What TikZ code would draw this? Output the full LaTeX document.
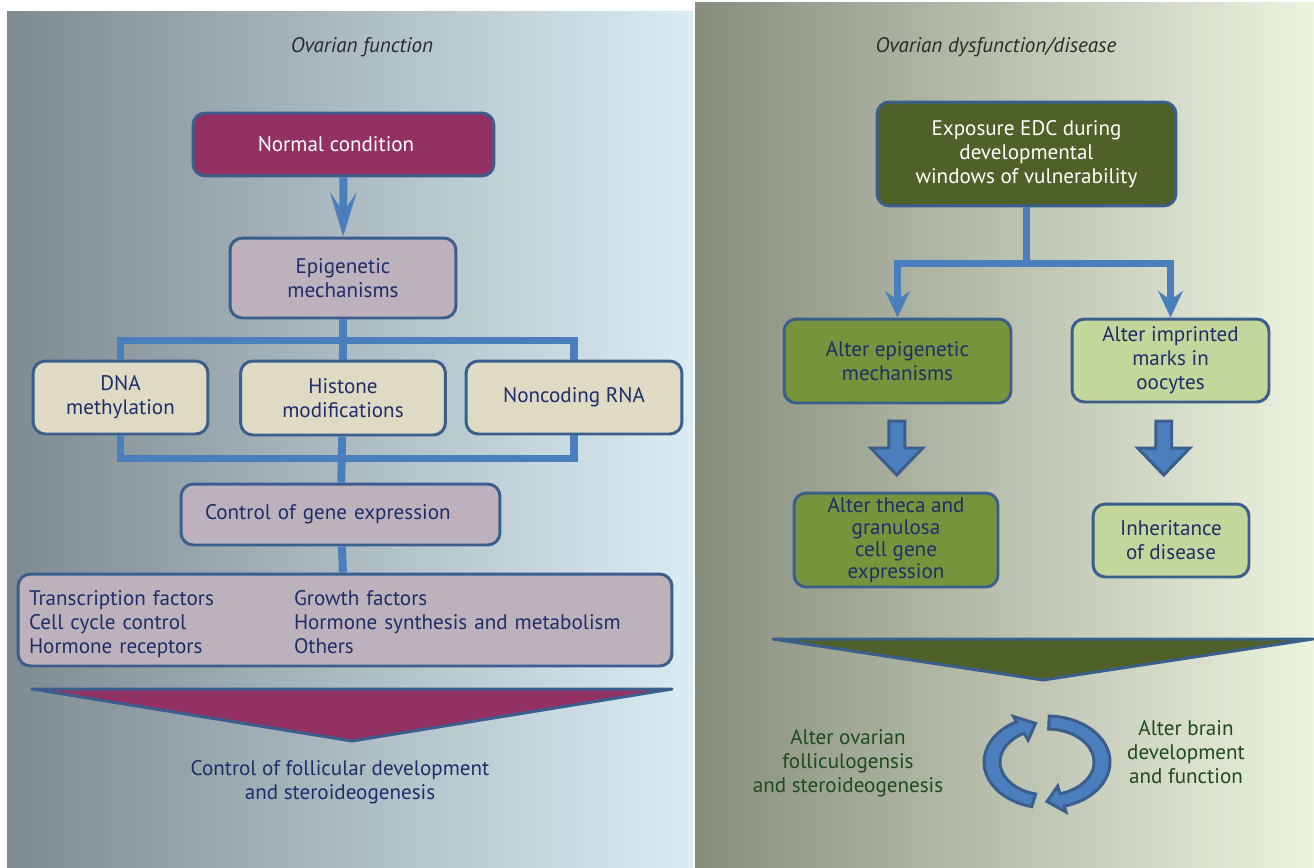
\documentclass[tikz,border=0pt]{standalone}
\usepackage{fontspec}
\setmainfont{PT Sans}
\usetikzlibrary{arrows.meta,positioning,calc}
\definecolor{PanelBlueL}{HTML}{7E8B90}
\definecolor{PanelBlueR}{HTML}{DAECF4}
\definecolor{PanelOliveL}{HTML}{888E7E}
\definecolor{PanelOliveR}{HTML}{ECF3DF}
\definecolor{BoxEdge}{HTML}{3B5E8C}
\definecolor{PipeBlue}{HTML}{4A7EBC}
\definecolor{Rose}{HTML}{933262}
\definecolor{Mauve}{HTML}{BDB2BB}
\definecolor{Sand}{HTML}{DFDAC4}
\definecolor{OliveDark}{HTML}{4F6128}
\definecolor{OliveMid}{HTML}{77933C}
\definecolor{OlivePale}{HTML}{C3D69B}
\definecolor{Navy}{HTML}{1F2D6A}
\definecolor{GreenInk}{HTML}{1D4A1E}
\definecolor{Ink}{HTML}{2A2A2A}

% block arrow pointing down, centred on a coordinate
\newcommand{\blockdown}[1]{%
  \filldraw[blockarr] ($(#1)+(-8,27)$) -- ($(#1)+(8,27)$) -- ($(#1)+(8,0)$)
    -- ($(#1)+(26,0)$) -- ($(#1)+(0,-27)$) -- ($(#1)+(-26,0)$)
    -- ($(#1)+(-8,0)$) -- cycle;}

\begin{document}
\begin{tikzpicture}[
    x=0.02cm, y=0.02cm,
    box/.style={
      draw=BoxEdge, line width=1.7pt, rounded corners=7pt,
      align=center, inner sep=0pt, text=Navy,
      font=\fontsize{12pt}{13.6pt}\selectfont
    },
    rosebox/.style={box, fill=Rose, text=white},
    mauvebox/.style={box, fill=Mauve},
    sandbox/.style={box, fill=Sand},
    darkbox/.style={box, fill=OliveDark, text=white},
    olivebox/.style={box, fill=OliveMid},
    palebox/.style={box, fill=OlivePale},
    pipe/.style={draw=PipeBlue, line width=4.5pt},
    pipearr/.style={pipe, -{Stealth[length=25pt, width=15pt, inset=11pt]}},
    forkarr/.style={pipe, -{Stealth[length=15pt, width=14pt, inset=5pt]}},
    blockarr/.style={fill=PipeBlue, draw=BoxEdge, line width=1.7pt},
    funnel/.style={draw=BoxEdge, line width=1.7pt, line join=round},
    heading/.style={font=\fontsize{12pt}{13.6pt}\selectfont\itshape, text=Ink},
    note/.style={font=\fontsize{12pt}{13.6pt}\selectfont, align=center}
  ]
  \useasboundingbox (0,0) rectangle (1314,-868);

  % Panels
  \shade[left color=PanelBlueL, right color=PanelBlueR] (7,-12) rectangle (693,-868);
  \shade[left color=PanelOliveL, right color=PanelOliveR] (695,-3) rectangle (1314,-868);

  \node[heading] (lefttitle) at (362,-47) {Ovarian function};
  \node[heading] (righttitle) at (996,-47) {Ovarian dysfunction/disease};

  % Ovarian function
  \node[rosebox, minimum width=6.02cm, minimum height=1.26cm] (normal) at (343.5,-144.5) {Normal condition\hspace{0.3cm}};
  \node[mauvebox, minimum width=4.52cm, minimum height=1.6cm] (epi) at (343,-278) {Epigenetic\\mechanisms};
  \node[sandbox, minimum width=3.5cm, minimum height=1.46cm] (dna) at (120.5,-397.5) {DNA\\methylation};
  \node[sandbox, minimum width=4.1cm, minimum height=1.48cm] (hist) at (343,-398) {Histone\\modifications};
  \node[sandbox, minimum width=4.32cm, minimum height=1.46cm] (nonc) at (574,-397.5) {Noncoding RNA};
  \node[mauvebox, minimum width=6.38cm, minimum height=1.22cm, text width=5.42cm,
        inner xsep=0.48cm, align=left] (ctrl) at (340.5,-514.5) {Control of gene expression};
  \node[mauvebox, minimum width=13.08cm, minimum height=1.84cm, text width=12.64cm,
        inner xsep=0.22cm, align=left] (genes) at (345,-620)
    {\begin{tabular}{@{}p{5.3cm}@{}l@{}}
       \rule{0pt}{15.1pt}Transcription factors & Growth factors\\
       Cell cycle control & Hormone synthesis and metabolism\\
       Hormone receptors & Others
     \end{tabular}};

  \draw[pipearr] (normal) -- (epi);
  \draw[pipe] (epi) -- (hist);
  \draw[pipe] (dna.north) -- ++(0,19) -| (nonc.north);
  \draw[pipe] (dna.south) -- ++(0,-23) -| (nonc.south);
  \draw[pipe] (hist) -- (ctrl);
  \draw[pipe] (ctrl) -- (genes);

  \filldraw[funnel, fill=Rose] (32,-689) -- (672,-689) -- (352,-741) -- cycle;
  \node[note, text=Navy] (outcome) at (340,-782) {Control of follicular development\\and steroideogenesis};

  % Ovarian dysfunction
  \node[darkbox, minimum width=5.98cm, minimum height=2.08cm] (expo) at (1026.5,-154)
    {Exposure EDC during\\developmental\\windows of vulnerability};
  \node[olivebox, minimum width=4.54cm, minimum height=1.68cm] (altepi) at (897.5,-361) {Alter epigenetic\\mechanisms};
  \node[palebox, minimum width=3.94cm, minimum height=1.66cm] (imprint) at (1170.5,-360.5) {Alter imprinted\\marks in\\oocytes};
  \node[olivebox, minimum width=4.08cm, minimum height=1.88cm,
        font=\fontsize{12pt}{12.5pt}\selectfont] (theca) at (896,-540)
    {Alter theca and\\granulosa\\cell gene\\expression};
  \node[palebox, minimum width=3.12cm, minimum height=1.46cm] (inherit) at (1171,-540.5) {Inheritance\\of disease};

  \draw[pipe] (expo.south) -- ++(0,-56) coordinate (fork);
  \draw[forkarr] (fork) -| (altepi);
  \draw[forkarr] (fork) -| (imprint);

  \coordinate (mid1) at ($(altepi.south)!0.5!(theca.north)$);
  \coordinate (mid2) at ($(imprint.south)!0.45!(inherit.north)+(-7,0)$);
  \blockdown{mid1}
  \blockdown{mid2}

  \filldraw[funnel, fill=OliveDark] (773,-639) -- (1313,-639) -- (1043,-680) -- cycle;

  % Cycle arrows
  \begin{scope}[shift={(1047,-762)}]
    \filldraw[blockarr]
      (88:1.26cm and 0.92cm) arc[start angle=88, end angle=-74, x radius=1.26cm, y radius=0.92cm]
      -- (-74:1.38cm and 1.04cm) -- (-90:1.10cm and 0.79cm) -- (-74:0.78cm and 0.50cm)
      -- (-74:0.94cm and 0.66cm) arc[start angle=-74, end angle=88, x radius=0.94cm, y radius=0.66cm]
      -- cycle;
    \filldraw[blockarr]
      (256:1.26cm and 0.92cm) arc[start angle=256, end angle=119, x radius=1.26cm, y radius=0.92cm]
      -- (119:1.38cm and 1.04cm) -- (102:1.10cm and 0.79cm) -- (119:0.78cm and 0.50cm)
      -- (119:0.94cm and 0.66cm) arc[start angle=119, end angle=256, x radius=0.94cm, y radius=0.66cm]
      -- cycle;
  \end{scope}

  \node[note, text=GreenInk] (ovary) at (848,-763) {Alter ovarian\\folliculogensis\\and steroideogenesis};
  \node[note, text=GreenInk] (brain) at (1186,-752) {Alter brain\\development\\and function};

\end{tikzpicture}
\end{document}
